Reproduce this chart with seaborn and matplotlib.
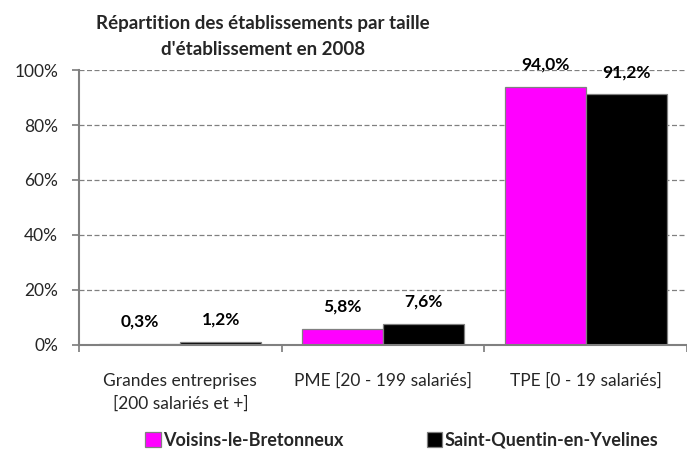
import pandas as pd
import numpy as np
import matplotlib
matplotlib.use("Agg")
import matplotlib.pyplot as plt
import seaborn as sns
from matplotlib.patches import Patch

sns.set_theme(style="white")
plt.rcParams['font.family'] = ['Lato', 'DejaVu Sans']

# === data ===
categories = ["Grandes entreprises\n[200 salariés et +]",
              "PME [20 - 199 salariés]",
              "TPE [0 - 19 salariés]"]
series_names = ["Voisins-le-Bretonneux", "Saint-Quentin-en-Yvelines"]
voisins = [0.3, 5.8, 94.0]
sqy = [1.2, 7.6, 91.2]
colors = ["#FF00FF", "#000000"]

df = pd.DataFrame({
    "Categorie": categories * 2,
    "Zone": [series_names[0]] * 3 + [series_names[1]] * 3,
    "Valeur": voisins + sqy,
})

# === figure ===
fig = plt.figure(figsize=(6.87, 4.55), dpi=100)
ax = fig.add_axes([0.115, 0.242, 0.885, 0.604])

sns.barplot(data=df, x="Categorie", y="Valeur", hue="Zone",
            palette=dict(zip(series_names, colors)), width=0.8, saturation=1,
            edgecolor="#808080", linewidth=0.9, ax=ax, legend=False)

# data labels
for cont in ax.containers:
    for rect in cont:
        h = rect.get_height()
        ax.annotate(f"{h:.1f}%".replace(".", ","),
                    (rect.get_x() + rect.get_width() / 2, h),
                    xytext=(0, 16), textcoords="offset points",
                    ha="center", va="center", fontsize=12.5,
                    fontweight="bold", color="black")

# y axis
ax.set_ylim(0, 100)
ax.set_yticks(np.arange(0, 101, 20))
ax.set_yticklabels([f"{t}%" for t in range(0, 101, 20)], fontsize=12.5)
ax.yaxis.grid(True, linestyle=(0, (4, 2)), color="#808080", linewidth=0.9)
ax.set_axisbelow(True)

# x axis: tick marks between categories, labels at centers
ax.set_xlim(-0.5, 2.5)
ax.set_xticks([-0.5, 0.5, 1.5, 2.5])
ax.set_xticklabels([])
ax.set_xticks([0, 1, 2], minor=True)
ax.set_xticklabels(categories, minor=True, fontsize=12.5, linespacing=1.55)
ax.tick_params(axis="x", which="major", length=5, color="#808080", direction="out", bottom=True)
ax.tick_params(axis="x", which="minor", length=0, pad=20)
ax.tick_params(axis="y", length=5, color="#808080", direction="out", left=True, pad=10)
ax.set_xlabel("")
ax.set_ylabel("")

for s in ["top", "right"]:
    ax.spines[s].set_visible(False)
for s in ["left", "bottom"]:
    ax.spines[s].set_color("#808080")
    ax.spines[s].set_linewidth(1.5)

# title
fig.text(0.383, 0.968, "Répartition des établissements par taille\nd'établissement en 2008",
         ha="center", va="top", fontsize=13.5, fontweight="bold", linespacing=1.65)

# legend
handles = [Patch(facecolor=c, edgecolor="#808080", linewidth=0.9) for c in colors]
fig.legend(handles, series_names, loc="lower center", bbox_to_anchor=(0.585, -0.022),
           ncol=2, frameon=False, handlelength=0.85, handleheight=0.85,
           handletextpad=0.15, columnspacing=4.6,
           prop={"weight": "bold", "size": 13})

fig.savefig("out.png", dpi=100)
